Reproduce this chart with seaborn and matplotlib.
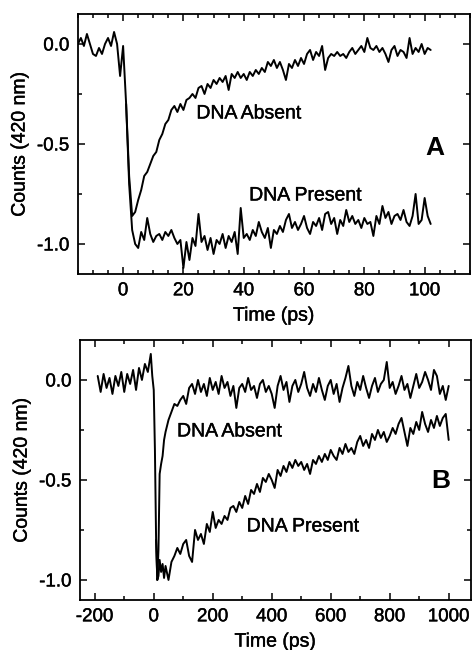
import matplotlib
matplotlib.use("Agg")
import matplotlib.pyplot as plt
import matplotlib.patheffects as pe
from matplotlib.ticker import MultipleLocator, FormatStrFormatter
import seaborn as sns

# ---- panel A (0-100 ps window) ----
time_a = [-15, -14, -13, -12, -11, -10, -9, -8, -7, -6,
          -5, -4, -3, -2, -1, 0, 1, 2, 3, 4,
          5, 6, 7, 8, 9, 10, 11, 12, 13, 14,
          15, 16, 17, 18, 19, 20, 21, 22, 23, 24,
          25, 26, 27, 28, 29, 30, 31, 32, 33, 34,
          35, 36, 37, 38, 39, 40, 41, 42, 43, 44,
          45, 46, 47, 48, 49, 50, 51, 52, 53, 54,
          55, 56, 57, 58, 59, 60, 61, 62, 63, 64,
          65, 66, 67, 68, 69, 70, 71, 72, 73, 74,
          75, 76, 77, 78, 79, 80, 81, 82, 83, 84,
          85, 86, 87, 88, 89, 90, 91, 92, 93, 94,
          95, 96, 97, 98, 99, 100, 101, 102]

absent_a = [0.00, 0.03, -0.01, 0.05, 0.00, -0.05, -0.06, -0.02, -0.05, 0.00,
            0.03, -0.01, 0.06, 0.00, -0.16, -0.01, -0.30, -0.66, -0.86, -0.84,
            -0.78, -0.73, -0.66, -0.64, -0.60, -0.56, -0.54, -0.48, -0.45, -0.40,
            -0.38, -0.33, -0.31, -0.34, -0.30, -0.33, -0.28, -0.27, -0.25, -0.27,
            -0.22, -0.21, -0.25, -0.20, -0.22, -0.18, -0.20, -0.17, -0.19, -0.16,
            -0.23, -0.15, -0.17, -0.14, -0.17, -0.15, -0.18, -0.14, -0.16, -0.13,
            -0.15, -0.12, -0.14, -0.09, -0.11, -0.08, -0.12, -0.09, -0.13, -0.18,
            -0.10, -0.12, -0.08, -0.11, -0.07, -0.10, -0.05, -0.03, -0.08, -0.04,
            -0.06, -0.01, -0.13, -0.07, -0.05, -0.06, -0.04, -0.06, -0.05, -0.07,
            -0.04, -0.02, -0.05, -0.03, -0.01, -0.04, 0.03, -0.02, -0.03, -0.01,
            -0.04, -0.02, -0.05, -0.09, -0.03, -0.01, -0.06, -0.03, -0.04, -0.07,
            0.03, -0.05, -0.02, -0.04, 0.00, -0.05, -0.02, -0.03]

# present trace splits off at t = 1 ps
present_a = [-0.30, -0.70, -0.93, -1.00, -1.02, -0.94, -0.98, -0.87, -0.95, -0.99,
             -0.96, -0.95, -0.98, -0.94, -0.96, -0.93, -0.97, -1.00, -0.98, -1.12,
             -0.99, -1.08, -0.97, -1.01, -0.85, -0.99, -0.96, -1.03, -0.97, -1.05,
             -0.98, -1.00, -0.95, -1.02, -0.96, -0.99, -0.94, -1.05, -0.82, -0.97,
             -0.95, -0.98, -0.93, -0.96, -0.89, -0.94, -0.97, -0.92, -1.02, -0.93,
             -0.95, -0.91, -0.94, -0.88, -0.85, -0.92, -0.89, -0.93, -0.90, -0.86,
             -0.92, -0.95, -0.89, -0.91, -0.87, -0.93, -0.85, -0.84, -0.90, -0.87,
             -0.95, -0.88, -0.91, -0.83, -0.89, -0.86, -0.90, -0.88, -0.92, -0.87,
             -0.90, -0.89, -0.96, -0.86, -0.90, -0.81, -0.87, -0.84, -0.90, -0.86,
             -0.85, -0.88, -0.83, -0.89, -0.91, -0.86, -0.75, -0.90, -0.88, -0.77,
             -0.86, -0.90]
time_a_present = time_a[16:]

# ---- panel B (0-1000 ps window) ----
time_b_head = [-190, -180, -170, -160, -150, -140, -130, -120, -110, -100,
               -90, -80, -70, -60, -50, -40, -30, -20, -10, -5,
               0, 4]
time_b_rise = [8, 12, 16, 20, 25, 30, 35, 40]
time_b_tail = [50, 60, 70, 80, 90, 100, 110, 120, 130, 140,
               150, 160, 170, 180, 190, 200, 210, 220, 230, 240,
               250, 260, 270, 280, 290, 300, 310, 320, 330, 340,
               350, 360, 370, 380, 390, 400, 410, 420, 430, 440,
               450, 460, 470, 480, 490, 500, 510, 520, 530, 540,
               550, 560, 570, 580, 590, 600, 610, 620, 630, 640,
               650, 660, 670, 680, 690, 700, 710, 720, 730, 740,
               750, 760, 770, 780, 790, 800, 810, 820, 830, 840,
               850, 860, 870, 880, 890, 900, 910, 920, 930, 940,
               950, 960, 970, 980, 990, 1000]
time_b_absent = time_b_head + time_b_rise + time_b_tail
time_b_present = time_b_rise + time_b_tail

absent_b = [0.02, -0.06, 0.03, -0.04, 0.01, -0.07, 0.02, -0.03, 0.04, -0.06,
            0.03, -0.02, 0.05, -0.05, 0.06, 0.00, 0.08, 0.04, 0.13, 0.02,
            -0.05, -0.35, -0.80, -1.00, -0.85, -0.47, -0.42, -0.38, -0.30, -0.26,
            -0.20, -0.16, -0.12, -0.13, -0.10, -0.08, -0.12, -0.04, -0.02, -0.07,
            0.00, -0.06, -0.02, -0.08, 0.01, -0.05, -0.01, -0.07, 0.02, -0.04,
            -0.01, -0.08, -0.03, -0.14, -0.04, -0.02, -0.06, 0.01, -0.05, -0.03,
            -0.09, -0.02, 0.00, -0.06, -0.03, -0.07, -0.14, -0.03, 0.02, -0.05,
            -0.01, -0.11, -0.03, 0.00, -0.06, -0.02, 0.04, -0.04, -0.08, -0.02,
            -0.06, 0.01, -0.05, -0.10, -0.03, 0.00, -0.07, -0.02, -0.11, -0.04,
            0.01, 0.07, -0.03, -0.08, -0.01, -0.05, 0.02, -0.04, -0.09, -0.03,
            0.01, -0.06, -0.02, 0.00, 0.09, -0.04, -0.01, -0.07, -0.03, 0.02,
            -0.05, -0.02, -0.09, -0.03, 0.03, -0.04, -0.01, 0.04, 0.00, -0.05,
            0.05, 0.02, -0.07, -0.03, -0.10, -0.03]

present_b = [-0.80, -1.00, -0.98, -0.90, -0.96, -0.92, -0.99, -0.93,
             -1.00, -0.91, -0.88, -0.84, -0.87, -0.82, -0.80, -0.88, -0.91, -0.75,
             -0.80, -0.77, -0.82, -0.72, -0.76, -0.66, -0.74, -0.70, -0.72, -0.68,
             -0.70, -0.64, -0.63, -0.66, -0.61, -0.64, -0.58, -0.62, -0.55, -0.57,
             -0.52, -0.56, -0.49, -0.51, -0.47, -0.50, -0.54, -0.45, -0.48, -0.43,
             -0.46, -0.41, -0.44, -0.40, -0.43, -0.41, -0.45, -0.42, -0.47, -0.40,
             -0.42, -0.38, -0.41, -0.37, -0.40, -0.35, -0.38, -0.40, -0.34, -0.37,
             -0.32, -0.36, -0.34, -0.37, -0.31, -0.28, -0.33, -0.30, -0.34, -0.27,
             -0.30, -0.25, -0.29, -0.26, -0.31, -0.28, -0.24, -0.27, -0.22, -0.19,
             -0.26, -0.33, -0.24, -0.27, -0.21, -0.25, -0.16, -0.22, -0.26, -0.20,
             -0.24, -0.18, -0.23, -0.19, -0.17, -0.30]


sns.set_theme(style="ticks")
plt.rcParams["font.family"] = ["Liberation Sans", "DejaVu Sans"]
plt.rcParams["axes.unicode_minus"] = False
plt.rcParams["text.color"] = "black"
plt.rcParams["axes.labelcolor"] = "black"

# the scanned original has slightly heavy type
heavy = [pe.withStroke(linewidth=0.3, foreground="black")]

fig = plt.figure(figsize=(4.72, 6.5), dpi=100)
ax_a = fig.add_axes([0.165, 0.5785, 0.8305, 0.40])
ax_b = fig.add_axes([0.1695, 0.077, 0.828, 0.40])


def style_axes(ax, xmaj, xmin):
    ax.xaxis.set_major_locator(MultipleLocator(xmaj))
    ax.xaxis.set_minor_locator(MultipleLocator(xmin))
    ax.yaxis.set_major_locator(MultipleLocator(0.5))
    ax.yaxis.set_minor_locator(MultipleLocator(0.25))
    ax.yaxis.set_major_formatter(FormatStrFormatter("%.1f"))
    ax.tick_params(which="both", direction="in", top=True, right=True,
                   width=1.1, color="black", labelsize=13.5, labelcolor="black")
    ax.tick_params(which="major", length=5, pad=6)
    ax.tick_params(which="minor", length=3)
    for sp in ax.spines.values():
        sp.set_linewidth(1.3)
        sp.set_color("black")
    ax.set_xlabel("Time (ps)", fontsize=14, labelpad=6)
    ax.set_ylabel("Counts (420 nm)", fontsize=14, labelpad=6)
    for lab in ax.get_xticklabels() + ax.get_yticklabels():
        lab.set_path_effects(heavy)
    ax.xaxis.label.set_path_effects(heavy)
    ax.yaxis.label.set_path_effects(heavy)


# panel A
sns.lineplot(x=time_a, y=absent_a, ax=ax_a, color="black", linewidth=1.4,
             estimator=None, sort=False)
sns.lineplot(x=time_a_present, y=present_a, ax=ax_a, color="black", linewidth=1.4,
             estimator=None, sort=False)
ax_a.set_xlim(-15, 115)
ax_a.set_ylim(-1.15, 0.15)
style_axes(ax_a, 20, 5)
ax_a.text(24.3, -0.35, "DNA Absent", fontsize=14, va="center", ha="left",
          path_effects=heavy)
ax_a.text(41.8, -0.76, "DNA Present", fontsize=14, va="center", ha="left",
          path_effects=heavy)
ax_a.text(103.5, -0.52, "A", fontsize=19, fontweight="bold", color="black",
          va="center", ha="center")

# panel B
sns.lineplot(x=time_b_absent, y=absent_b, ax=ax_b, color="black", linewidth=1.4,
             estimator=None, sort=False)
sns.lineplot(x=time_b_present, y=present_b, ax=ax_b, color="black", linewidth=1.4,
             estimator=None, sort=False)
ax_b.set_xlim(-250, 1075)
ax_b.set_ylim(-1.1, 0.2)
style_axes(ax_b, 200, 100)
ax_b.text(79, -0.26, "DNA Absent", fontsize=14, va="center", ha="left",
          path_effects=heavy)
ax_b.text(315, -0.735, "DNA Present", fontsize=14, va="center", ha="left",
          path_effects=heavy)
ax_b.text(974, -0.505, "B", fontsize=19, fontweight="bold", color="black",
          va="center", ha="center")

fig.savefig("out.png", dpi=100)
